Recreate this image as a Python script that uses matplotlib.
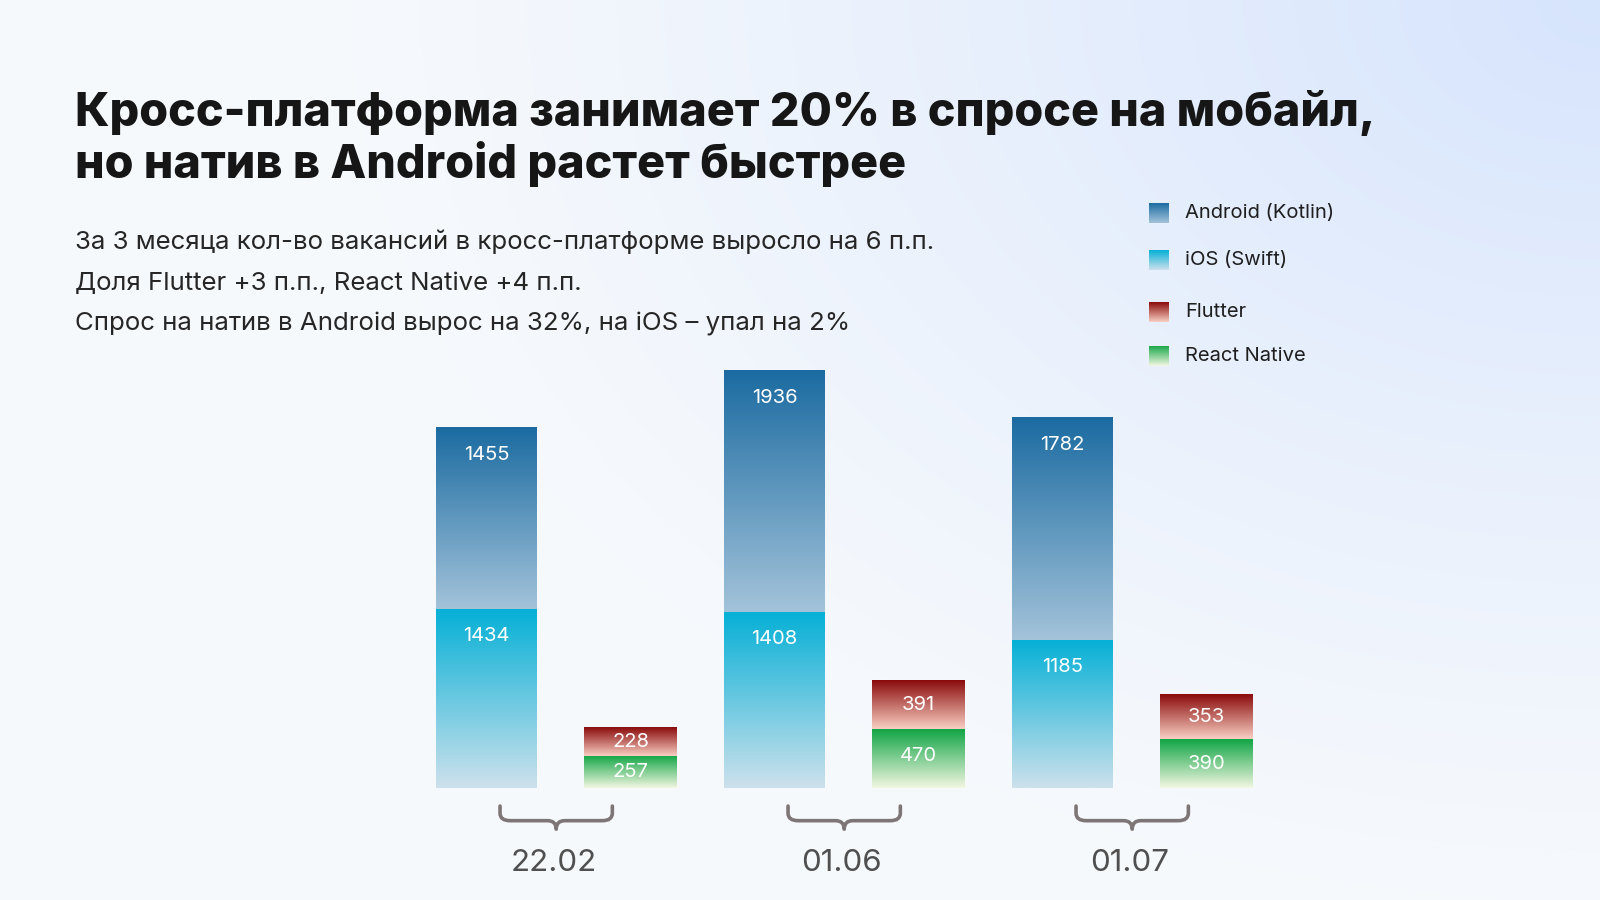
import numpy as np
import matplotlib
matplotlib.use("Agg")
import matplotlib.pyplot as plt
from matplotlib.colors import LinearSegmentedColormap
from matplotlib.path import Path
from matplotlib.patches import PathPatch

# ---------------- data ----------------
dates = ["22.02", "01.06", "01.07"]
android = [1455, 1936, 1782]
ios = [1434, 1408, 1185]
flutter = [228, 391, 353]
react_native = [257, 470, 390]

legend_labels = ["Android (Kotlin)", "iOS (Swift)", "Flutter", "React Native"]

title = "Кросс-платформа занимает 20% в спросе на мобайл,\nно натив в Android растет быстрее"
subtitle_lines = [
    "За 3 месяца кол-во вакансий в кросс-платформе выросло на 6 п.п.",
    "Доля Flutter +3 п.п., React Native +4 п.п.",
    "Спрос на натив в Android вырос на 32%, на iOS – упал на 2%",
]

# gradients (top colour, bottom colour)
grad_android = ("#1b6ba1", "#a3c3da")
grad_ios = ("#06b0d6", "#cde1ec")
grad_flutter = ("#8a0b0b", "#f9cfc3")
grad_rn = ("#11a545", "#f3f7e2")

FONT = ["Inter", "DejaVu Sans"]
plt.rcParams["font.family"] = FONT

W, H = 1600, 900
fig = plt.figure(figsize=(16, 9), dpi=100)

# ---------------- background ----------------
bg = fig.add_axes([0, 0, 1, 1], zorder=-10)
yy, xx = np.mgrid[0:H, 0:W]
base = np.array([246, 249, 252]) / 255.0
tint = np.array([214, 228, 252]) / 255.0
d = np.sqrt(((xx - 1600) / 1250.0) ** 2 + ((yy - 0) / 900.0) ** 2)
wgt = np.clip(1 - d, 0, 1) ** 1.2
img = base[None, None, :] * (1 - wgt[..., None]) + tint[None, None, :] * wgt[..., None]
bg.imshow(img, extent=[0, 1, 0, 1], aspect="auto", origin="upper")
bg.set_xlim(0, 1)
bg.set_ylim(0, 1)
bg.axis("off")

# ---------------- bars ----------------
px_per_unit = 0.1247
ymax = 3400
ax_h_px = ymax * px_per_unit
ax = fig.add_axes([414.5 / W, 112 / H, 864 / W, ax_h_px / H])
ax.set_xlim(-0.5, 2.5)
ax.set_ylim(0, ymax)
ax.axis("off")
ax.set_autoscale_on(False)

x = np.arange(len(dates))
native_off, cross_off = -0.25, 0.25
native_w, cross_w = 101 / 288, 93 / 288
grad = np.linspace(0, 1, 256).reshape(-1, 1)


def seg(xc, w, bottom, val, colors):
    cmap = LinearSegmentedColormap.from_list("g", [colors[0], colors[1]])
    ax.imshow(grad, extent=[xc - w / 2, xc + w / 2, bottom, bottom + val],
              aspect="auto", origin="upper", cmap=cmap, zorder=2, interpolation="bilinear")
    top = bottom + val
    ly = top - min(val / 2.0, 215)
    ax.text(xc, ly, f"{val}", color="white", ha="center", va="center",
            fontsize=14.5, zorder=3)


for i in range(len(dates)):
    xn = x[i] + native_off
    seg(xn, native_w, 0, ios[i], grad_ios)
    seg(xn, native_w, ios[i], android[i], grad_android)
    xc = x[i] + cross_off
    seg(xc, cross_w, 0, react_native[i], grad_rn)
    seg(xc, cross_w, react_native[i], flutter[i], grad_flutter)

ax.set_xlim(-0.5, 2.5)
ax.set_ylim(0, ymax)

# ---------------- braces + date labels ----------------
hw = 0.195
y_top, y_mid, y_tip = -145, -262, -330
r = 0.035
for i, lab in enumerate(dates):
    c = x[i] - 0.008
    verts = [
        (c - hw, y_top),
        (c - hw, y_mid + 60),
        (c - hw, y_mid), (c - hw + r, y_mid),
        (c - 0.03, y_mid),
        (c, y_mid), (c, y_tip),
        (c, y_mid), (c + 0.03, y_mid),
        (c + hw - r, y_mid),
        (c + hw, y_mid), (c + hw, y_mid + 60),
        (c + hw, y_top),
    ]
    codes = [Path.MOVETO, Path.LINETO, Path.CURVE3, Path.CURVE3, Path.LINETO,
             Path.CURVE3, Path.CURVE3, Path.CURVE3, Path.CURVE3, Path.LINETO,
             Path.CURVE3, Path.CURVE3, Path.LINETO]
    pp = PathPatch(Path(verts, codes), facecolor="none", edgecolor="#7d7576",
                   lw=2.6, clip_on=False, capstyle="round", joinstyle="round")
    ax.add_patch(pp)
    ax.text(x[i] - 0.018, -600, lab, ha="center", va="center", fontsize=22.5,
            color="#505050", clip_on=False)

# ---------------- title / subtitle ----------------
fig.text(75 / W, 1 - 90 / H, title, ha="left", va="top", fontsize=33.6,
         fontweight="heavy", color="#161616", linespacing=1.18)
for k, line in enumerate(subtitle_lines):
    fig.text(75 / W, 1 - (242 + 41 * k) / H, line, ha="left", va="center",
             fontsize=18.6, color="#262626")

# ---------------- legend ----------------
leg_y = [213, 260, 312, 356]
leg_grads = [grad_android, grad_ios, grad_flutter, grad_rn]
for lab, yc, g in zip(legend_labels, leg_y, leg_grads):
    sa = fig.add_axes([1149 / W, 1 - (yc + 10) / H, 20 / W, 20 / H])
    cm = LinearSegmentedColormap.from_list("l", [g[0], g[1]])
    sa.imshow(grad, aspect="auto", origin="upper", cmap=cm,
              extent=[0, 1, 0, 1], interpolation="bilinear")
    sa.axis("off")
    fig.text(1185 / W, 1 - yc / H, lab, ha="left", va="center",
             fontsize=14.5, color="#1e1e1e")

fig.savefig("out.png", dpi=100)
